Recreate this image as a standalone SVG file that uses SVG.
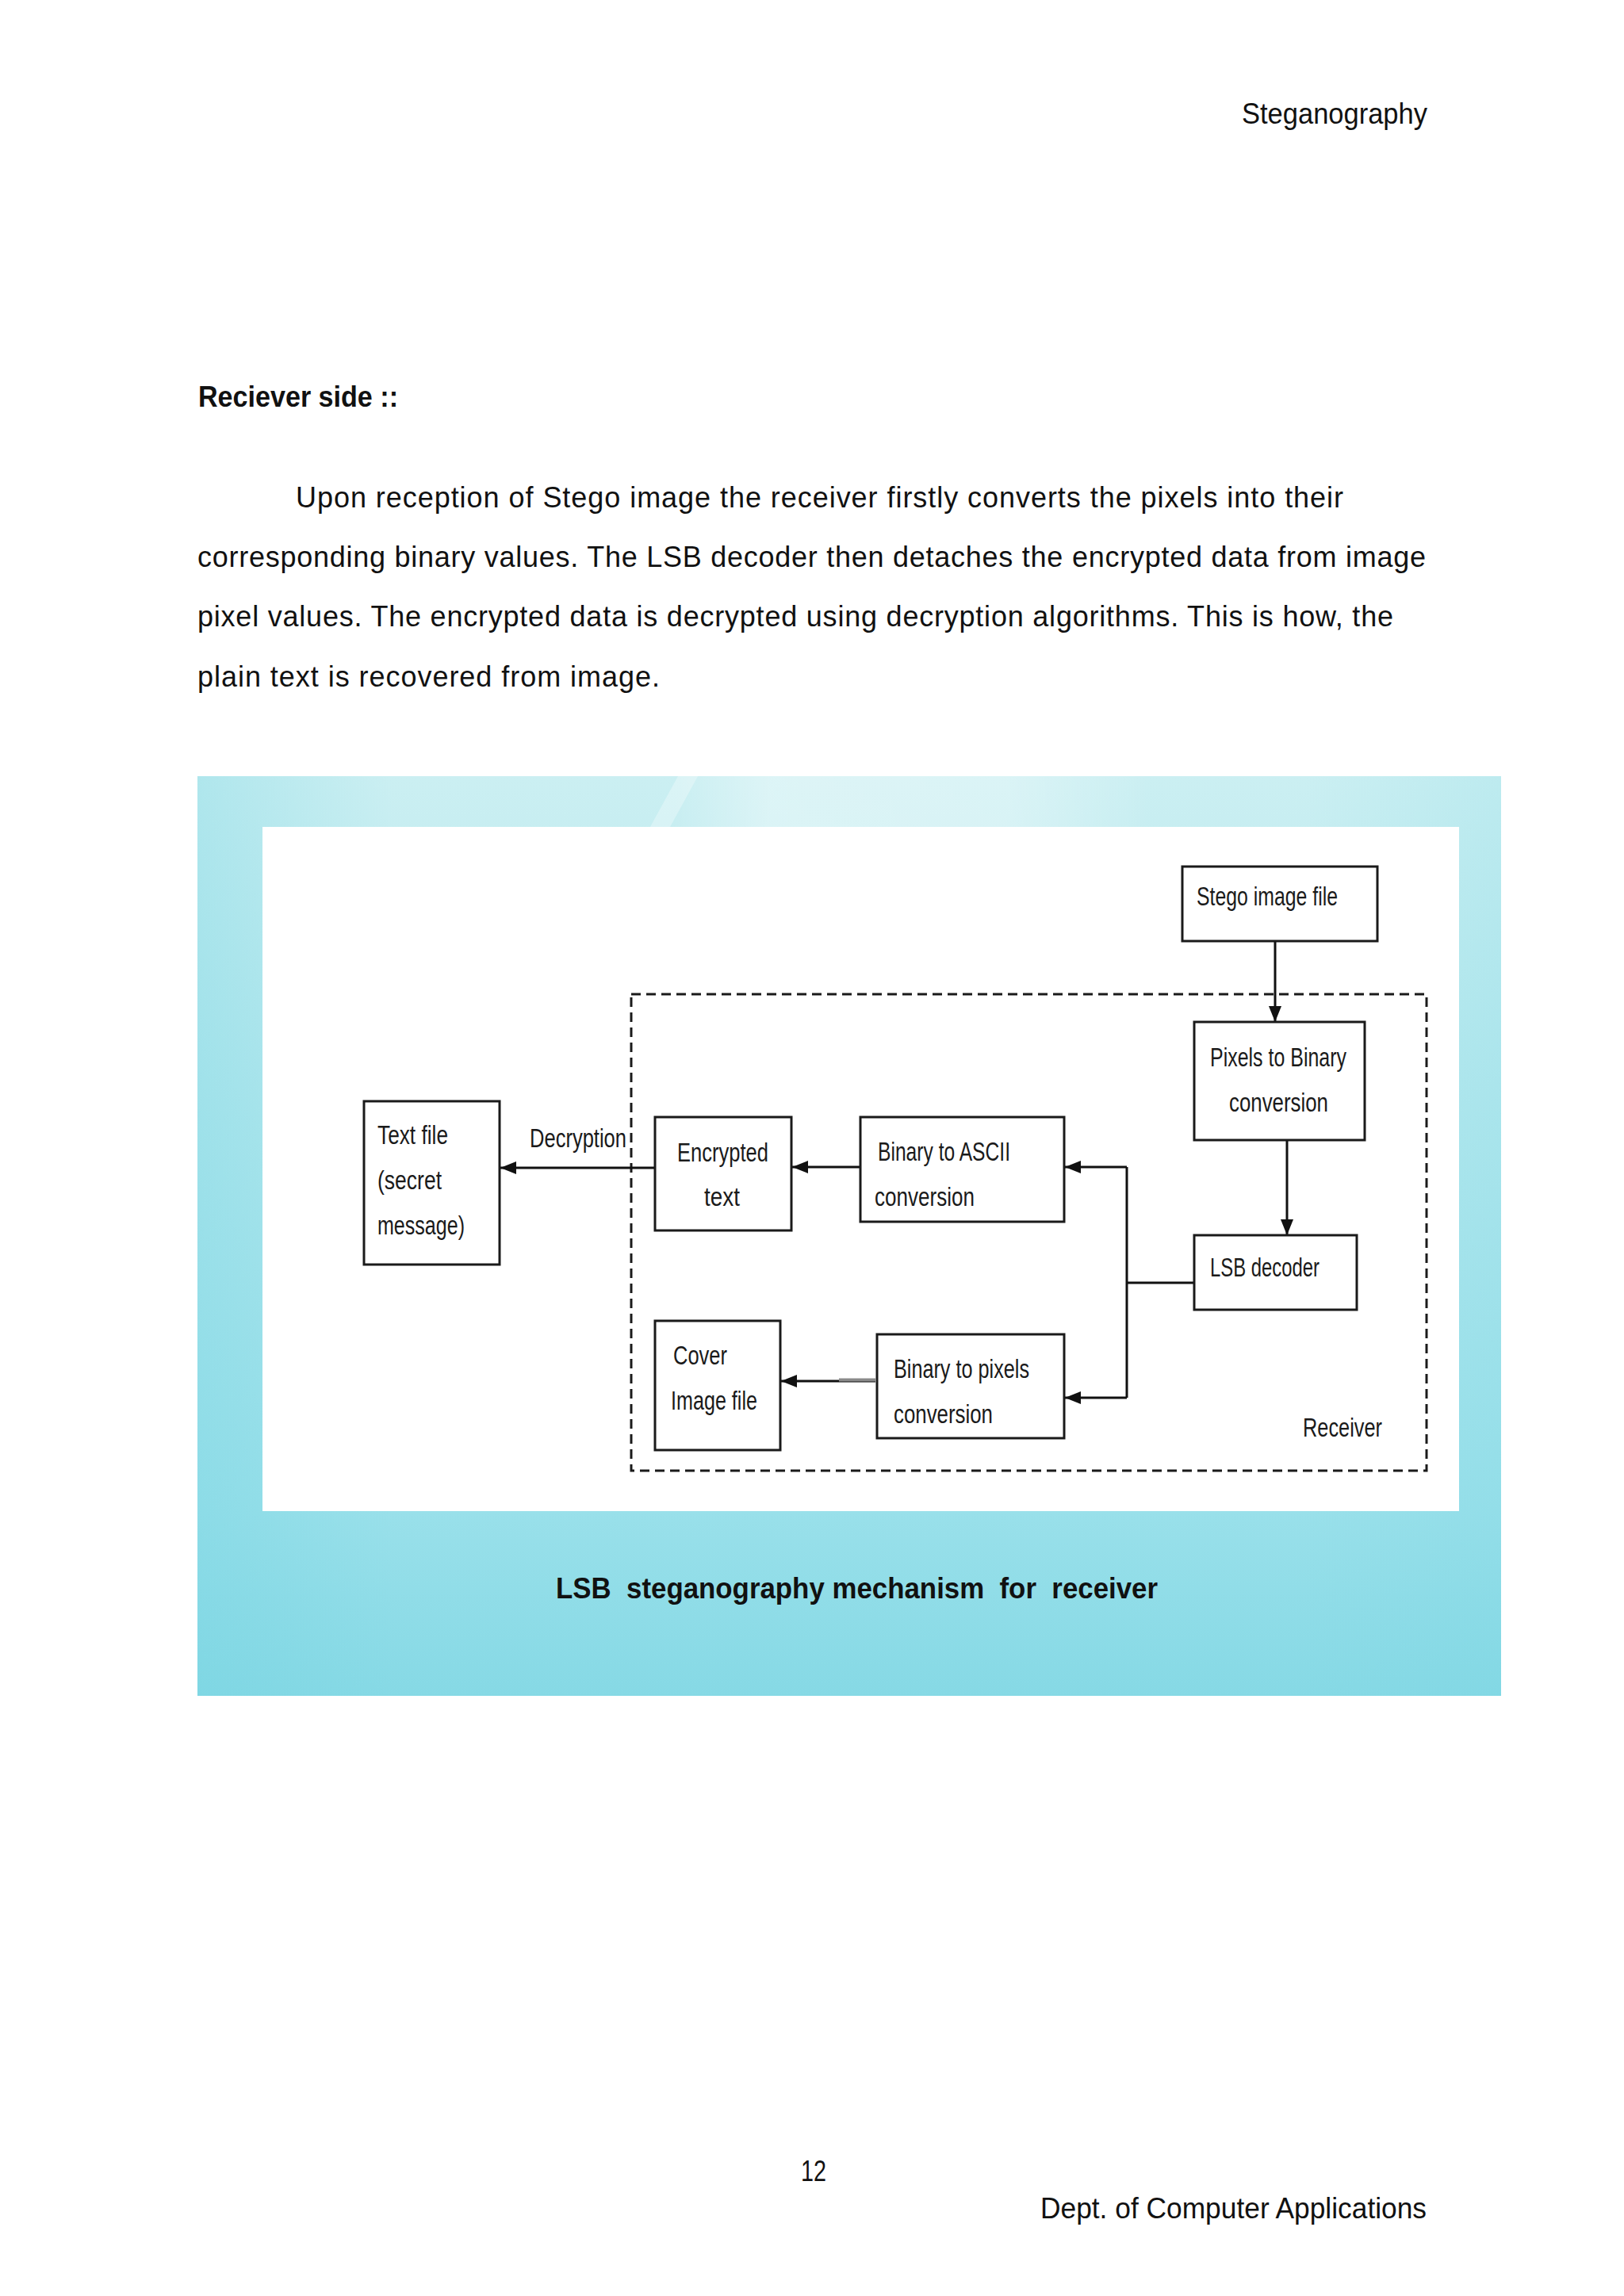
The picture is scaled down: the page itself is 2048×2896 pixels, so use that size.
<svg xmlns="http://www.w3.org/2000/svg" width="2048" height="2896" viewBox="0 0 2048 2896">
<style>
.page{font-family:"Liberation Sans","Open Sans",sans-serif;font-size:36px;fill:#111}
.bold{font-weight:bold}
.lbl{font-family:"Liberation Sans","Open Sans",sans-serif;font-size:33px;fill:#1a1a1a}
.box{fill:#ffffff;stroke:#1a1a1a;stroke-width:3}
.conn{fill:none;stroke:#111;stroke-width:3}
.dash{fill:none;stroke:#1a1a1a;stroke-width:3;stroke-dasharray:12 7}
</style>
<defs>
<linearGradient id="bg" x1="0" y1="0" x2="0" y2="1">
<stop offset="0" stop-color="#cbeff2"/>
<stop offset="0.35" stop-color="#b4e8ee"/>
<stop offset="0.8" stop-color="#99e0ea"/>
<stop offset="1" stop-color="#86d9e5"/>
</linearGradient>
<linearGradient id="side" x1="0" y1="0" x2="1" y2="0">
<stop offset="0" stop-color="#6fd2e0" stop-opacity="0.3"/>
<stop offset="0.15" stop-color="#6fd2e0" stop-opacity="0"/>
<stop offset="0.85" stop-color="#6fd2e0" stop-opacity="0"/>
<stop offset="1" stop-color="#6fd2e0" stop-opacity="0.15"/>
</linearGradient>
<linearGradient id="hl" x1="0" y1="0" x2="1" y2="0">
<stop offset="0" stop-color="#ffffff" stop-opacity="0"/>
<stop offset="0.2" stop-color="#ffffff" stop-opacity="0.35"/>
<stop offset="0.7" stop-color="#ffffff" stop-opacity="0.3"/>
<stop offset="1" stop-color="#ffffff" stop-opacity="0"/>
</linearGradient>
<marker id="arr" markerUnits="userSpaceOnUse" markerWidth="22" markerHeight="18" refX="20" refY="8" orient="auto">
<path d="M0,0 L20,8 L0,16 z" fill="#111"/>
</marker>
</defs>

<rect width="2048" height="2896" fill="#ffffff"/>

<text class="page" x="1566" y="156" textLength="234" lengthAdjust="spacingAndGlyphs">Steganography</text>
<text class="page bold" x="250" y="513" textLength="252" lengthAdjust="spacingAndGlyphs">Reciever side ::</text>
<text class="page" x="373" y="640" textLength="1321" lengthAdjust="spacing">Upon reception of Stego image the receiver firstly converts the pixels into their</text>
<text class="page" x="249" y="715" textLength="1549" lengthAdjust="spacing">corresponding binary values. The LSB decoder then detaches the encrypted data from image</text>
<text class="page" x="249" y="790" textLength="1508" lengthAdjust="spacing">pixel values. The encrypted data is decrypted using decryption algorithms. This is how, the</text>
<text class="page" x="249" y="866" textLength="583" lengthAdjust="spacing">plain text is recovered from image.</text>

<g id="figure-background">
<rect x="249" y="979" width="1644" height="1160" fill="url(#bg)"/>
<rect x="249" y="979" width="1644" height="1160" fill="url(#side)"/>
<rect x="850" y="979" width="600" height="64" fill="url(#hl)"/>
<polygon points="855,979 880,979 845,1043 820,1043" fill="#ffffff" opacity="0.3"/>
<rect x="331" y="1043" width="1509" height="863" fill="#ffffff"/>
</g>

<g id="receiver-boundary">
<rect class="dash" x="796" y="1254" width="1003" height="601"/>
<text class="lbl" x="1643" y="1812" textLength="100" lengthAdjust="spacingAndGlyphs">Receiver</text>
</g>

<g id="connectors">
<path class="conn" d="M1608,1181 L1608,1289" marker-end="url(#arr)"/>
<path class="conn" d="M1623,1438 L1623,1558" marker-end="url(#arr)"/>
<path class="conn" d="M1506,1618 L1421,1618"/>
<path class="conn" d="M1421,1472 L1421,1763"/>
<path class="conn" d="M1421,1472 L1343,1472" marker-end="url(#arr)"/>
<path class="conn" d="M1421,1763 L1343,1763" marker-end="url(#arr)"/>
<path class="conn" d="M1085,1472 L999,1472" marker-end="url(#arr)"/>
<path class="conn" d="M826,1473 L631,1473" marker-end="url(#arr)"/>
<path class="conn" d="M1104,1742 L985,1742" marker-end="url(#arr)"/>
<path d="M1058,1740.5 L1104,1740.5" stroke="#8a8a8a" stroke-width="4"/>
<text class="lbl" x="668" y="1447" textLength="122" lengthAdjust="spacingAndGlyphs">Decryption</text>
</g>

<g id="stego-image-file">
<rect class="box" x="1491" y="1093" width="246" height="94"/>
<text class="lbl" x="1509" y="1142" textLength="178" lengthAdjust="spacingAndGlyphs">Stego image file</text>
</g>

<g id="pixels-to-binary">
<rect class="box" x="1506" y="1289" width="215" height="149"/>
<text class="lbl" x="1526" y="1345" textLength="172" lengthAdjust="spacingAndGlyphs">Pixels to Binary</text>
<text class="lbl" x="1550" y="1402" textLength="125" lengthAdjust="spacingAndGlyphs">conversion</text>
</g>

<g id="lsb-decoder">
<rect class="box" x="1506" y="1558" width="205" height="94"/>
<text class="lbl" x="1526" y="1610" textLength="138" lengthAdjust="spacingAndGlyphs">LSB decoder</text>
</g>

<g id="binary-to-ascii">
<rect class="box" x="1085" y="1409" width="257" height="132"/>
<text class="lbl" x="1107" y="1464" textLength="167" lengthAdjust="spacingAndGlyphs">Binary to ASCII</text>
<text class="lbl" x="1103" y="1521" textLength="126" lengthAdjust="spacingAndGlyphs">conversion</text>
</g>

<g id="binary-to-pixels">
<rect class="box" x="1106" y="1683" width="236" height="131"/>
<text class="lbl" x="1127" y="1738" textLength="171" lengthAdjust="spacingAndGlyphs">Binary to pixels</text>
<text class="lbl" x="1127" y="1795" textLength="125" lengthAdjust="spacingAndGlyphs">conversion</text>
</g>

<g id="encrypted-text">
<rect class="box" x="826" y="1409" width="172" height="143"/>
<text class="lbl" x="854" y="1465" textLength="115" lengthAdjust="spacingAndGlyphs">Encrypted</text>
<text class="lbl" x="888" y="1521" textLength="45" lengthAdjust="spacingAndGlyphs">text</text>
</g>

<g id="cover-image-file">
<rect class="box" x="826" y="1666" width="158" height="163"/>
<text class="lbl" x="849" y="1721" textLength="68" lengthAdjust="spacingAndGlyphs">Cover</text>
<text class="lbl" x="846" y="1778" textLength="109" lengthAdjust="spacingAndGlyphs">Image file</text>
</g>

<g id="text-file">
<rect class="box" x="459" y="1389" width="171" height="206"/>
<text class="lbl" x="476" y="1443" textLength="89" lengthAdjust="spacingAndGlyphs">Text file</text>
<text class="lbl" x="476" y="1500" textLength="81" lengthAdjust="spacingAndGlyphs">(secret</text>
<text class="lbl" x="476" y="1557" textLength="110" lengthAdjust="spacingAndGlyphs">message)</text>
</g>

<text class="page bold" x="701" y="2016" textLength="759" lengthAdjust="spacingAndGlyphs" xml:space="preserve">LSB  steganography mechanism  for  receiver</text>

<text class="page" x="1010" y="2751" textLength="32" lengthAdjust="spacingAndGlyphs">12</text>
<text class="page" x="1312" y="2798" textLength="487" lengthAdjust="spacingAndGlyphs">Dept. of Computer Applications</text>
</svg>
